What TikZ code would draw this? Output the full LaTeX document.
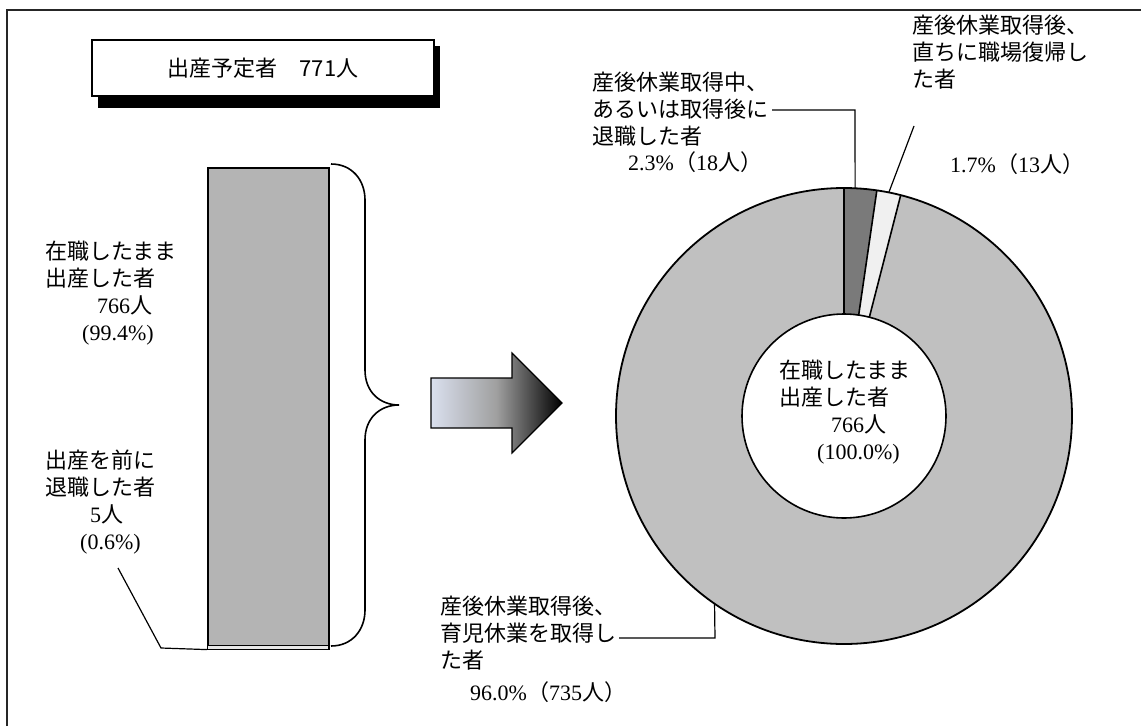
\documentclass[tikz,border=0pt]{standalone}
\usepackage{fontspec}
\setmainfont{Liberation Serif}
\newfontfamily\jp{Noto Sans CJK JP}
\newcommand{\J}[1]{{\jp #1}}
\definecolor{bargray}{RGB}{180,180,180}
\definecolor{biggray}{RGB}{192,192,192}
\definecolor{slicedark}{RGB}{122,122,122}
\definecolor{slicewhite}{RGB}{240,240,240}
\definecolor{arrowL}{RGB}{218,224,238}
\begin{document}
\begin{tikzpicture}[x=1pt,y=-1pt,
  lab/.style={inner sep=0pt, anchor=west, font=\fontsize{22}{27}\selectfont, text height=19pt, text depth=3pt},
  lead/.style={line width=1.2pt, black},
  edge/.style={line width=1.6pt, black}]
\fill[white] (0,0) rectangle (1141,726);
\useasboundingbox (0,0) rectangle (1141,726);
% frame
\draw[line width=2pt, black!85] (7,726) -- (7,10) -- (1141,10);
% title
\fill[black] (98,46) rectangle (440,108);
\node[draw, line width=1.5pt, fill=white, minimum width=342pt, minimum height=56pt, inner sep=0pt,
  font=\jp\fontsize{22}{22}\selectfont] (title) at (263,68) {出産予定者　771人};
% bar
\node[edge, draw, fill=bargray, minimum width=121pt, minimum height=481pt, inner sep=0pt, anchor=north west] (bar) at (207,167) {};
\draw[line width=1pt, fill=white!70!bargray] (207,645) rectangle (328,649);
% brace
\draw[edge] (331,164) .. controls (352,164) and (365,180) .. (365,200) -- (365,370)
  .. controls (365,392) and (380,405) .. (399,405)
  .. controls (380,405) and (365,418) .. (365,440) -- (365,610)
  .. controls (365,630) and (352,646) .. (331,646);
% left labels
\node[lab] (a1) at (45,251) {\J{在職したまま}};
\node[lab] (a2) at (45,278) {\J{出産した者}};
\node[lab] (a3) at (97,305) {766\J{人}};
\node[lab] (a4) at (82,332) {(99.4\%)};
\node[lab] (b1) at (45,460) {\J{出産を前に}};
\node[lab] (b2) at (45,487) {\J{退職した者}};
\node[lab] (b3) at (90,514) {5\J{人}};
\node[lab] (b4) at (80,541) {(0.6\%)};
\coordinate (bl) at (118,568);
\draw[lead] (bl) -- (161,648) -- (bar.south west);
% arrow
\shade[draw=black, line width=1.2pt, left color=arrowL, right color=black, middle color=gray!75]
  (431,378) -- (512,378) -- (512,353) -- (562,403) -- (512,453) -- (512,428) -- (431,428) -- cycle;
% donut
\begin{scope}[shift={(844,416)}, yscale=-1]
  \fill[biggray] (0,0) circle[radius=228];
  \fill[slicedark] (90:102) -- (90:228) arc[start angle=90, end angle=81.72, radius=228] -- (81.72:102) arc[start angle=81.72, end angle=90, radius=102] -- cycle;
  \fill[slicewhite] (81.72:102) -- (81.72:228) arc[start angle=81.72, end angle=75.6, radius=228] -- (75.6:102) arc[start angle=75.6, end angle=81.72, radius=102] -- cycle;
  \draw[edge] (90:102) -- (90:228);
  \draw[edge] (81.72:102) -- (81.72:228);
  \draw[edge] (75.6:102) -- (75.6:228);
  \draw[line width=1.8pt] (0,0) circle[radius=228];
  \draw[edge, fill=white] (0,0) circle[radius=102];
  \coordinate (pd) at (87.2:228);
  \coordinate (pw) at (78.66:228);
  \coordinate (pb) at (235.4:228);
\end{scope}
% donut labels
\node[lab] (f1) at (779,370) {\J{在職したまま}};
\node[lab] (f2) at (779,397) {\J{出産した者}};
\node[lab] (f3) at (831,424) {766\J{人}};
\node[lab] (f4) at (817,451) {(100.0\%)};
\node[lab] (c1) at (592,82) {\J{産後休業取得中、}};
\node[lab] (c2) at (592,109) {\J{あるいは取得後に}};
\node[lab] (c3) at (592,136) {\J{退職した者}};
\node[lab] (c4) at (628,162) {2.3\%\J{（}18\J{人）}};
\node[lab] (d1) at (912,25) {\J{産後休業取得後、}};
\node[lab] (d2) at (912,52) {\J{直ちに職場復帰し}};
\node[lab] (d3) at (912,79) {\J{た者}};
\node[lab] (d4) at (950,164) {1.7\%\J{（}13\J{人）}};
\node[lab] (e1) at (440,606) {\J{産後休業取得後、}};
\node[lab] (e2) at (440,633) {\J{育児休業を取得し}};
\node[lab] (e3) at (440,660) {\J{た者}};
\node[lab] (e4) at (470,692) {96.0\%\J{（}735\J{人）}};
% leaders
\coordinate (dk) at (855,110);
\coordinate (dl) at (772,110);
\draw[lead] (pd) -- (dk) -- (dl);
\coordinate (wt) at (914,126);
\draw[lead] (pw) -- (wt);
\coordinate (bk) at (715,638);
\coordinate (bq) at (619,638);
\draw[lead] (pb) -- (bk) -- (bq);
\end{tikzpicture}
\end{document}
